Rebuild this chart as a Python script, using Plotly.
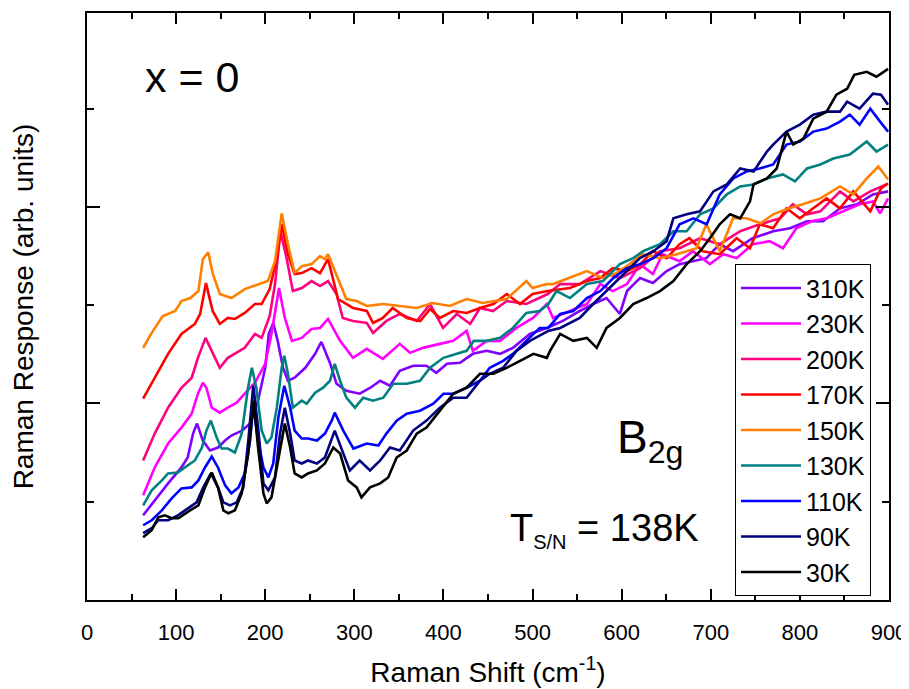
import plotly.graph_objects as go

labels = ["310K", "230K", "200K", "170K", "150K", "130K", "110K", "90K", "30K"]
colors = ["#8000FF", "#FF00FF", "#FF0080", "#FF0000", "#FF8000", "#008080", "#0000FF", "#000080", "#000000"]

# Raman shift (cm^-1) and response (arb. units)
x_310K = [63, 76, 91, 106, 113, 119, 123.5, 130, 138, 147, 155, 162, 174, 183, 192, 200, 204, 209, 214, 220, 225.5, 233, 245, 256, 263, 273, 280, 291, 306, 318, 329, 340, 351, 366, 381, 392, 404, 418.6, 433, 448.5, 463.5, 478, 497, 516, 534, 553, 568, 583, 598, 606, 620.6, 635, 650.5, 665, 680, 695, 710, 725, 747, 770, 789, 808, 826, 845, 864, 882, 899]
y_310K = [85, 100, 117, 133, 143, 167, 177, 160, 150, 153, 160, 165, 170, 177, 200, 233, 267, 278, 260, 233, 220, 223, 233, 247, 259, 237, 217, 210, 207, 213, 220, 215, 230, 235, 235, 228, 237, 238, 247, 250, 247, 253, 267, 273, 280, 290, 297, 303, 287, 310, 323, 318, 330, 337, 340, 343, 357, 350, 363, 370, 373, 380, 380, 393, 397, 407, 410]

x_230K = [63, 76, 91, 106, 117.5, 124.5, 130, 134, 140, 149, 158, 168, 177, 188.5, 200, 207, 215.5, 222, 230, 241, 252, 261.5, 270.5, 284, 298.5, 314, 332, 351, 362.5, 377, 396, 411, 426, 433, 448.5, 463.5, 482, 500.5, 516, 523, 542, 561, 576, 590, 606, 620.6, 635, 646, 665, 680, 699, 714, 729, 747, 766, 781, 796, 813, 830, 848, 867, 882, 890, 899]
y_230K = [105, 133, 157, 173, 187, 207, 218, 213, 193, 188, 193, 198, 207, 218, 237, 267, 313, 283, 260, 263, 272, 273, 282, 260, 243, 252, 242, 257, 248, 253, 257, 260, 270, 250, 260, 260, 273, 283, 297, 283, 290, 297, 317, 310, 317, 337, 327, 347, 340, 350, 337, 347, 343, 357, 360, 353, 373, 380, 383, 390, 397, 400, 388, 403]

x_200K = [63, 76, 91, 106, 117.5, 124.5, 133, 140, 149, 158, 168, 177, 188.5, 196, 205, 211, 217, 224, 231, 241, 252, 261.5, 270.5, 280, 287, 298.5, 314, 321, 336, 351, 370, 385, 399.5, 415, 430, 441, 455.6, 471, 493, 517, 531, 553, 576, 598, 620.6, 643, 665, 688, 710, 733, 755, 778, 792, 808, 823, 845, 860, 879, 897]
y_200K = [140, 167, 193, 213, 223, 243, 263, 250, 233, 243, 248, 253, 267, 263, 285, 317, 370, 343, 310, 313, 320, 315, 320, 307, 283, 280, 278, 268, 280, 287, 280, 297, 273, 287, 277, 293, 290, 300, 297, 307, 317, 317, 330, 323, 333, 350, 353, 363, 357, 370, 377, 383, 397, 387, 390, 410, 400, 410, 417]

x_170K = [63, 76, 91, 106, 121, 127, 133.5, 141, 149, 158, 166, 177, 188.5, 196, 205, 213, 218.5, 225.5, 233, 241, 252, 261.5, 270.5, 281.7, 298.5, 314, 321, 332, 343, 359, 374, 385, 396, 411, 426, 441, 456, 471, 486, 500, 517, 542, 561, 576, 590, 606, 621, 635, 650.5, 665, 676, 691, 710, 729, 744, 755, 770, 785, 800, 815, 830, 845, 860, 879, 891, 899]
y_170K = [202, 223, 247, 267, 277, 287, 318, 290, 277, 283, 282, 288, 297, 297, 312, 343, 377, 347, 327, 328, 333, 328, 342, 302, 293, 290, 278, 283, 293, 283, 280, 292, 283, 290, 288, 293, 297, 307, 297, 307, 310, 313, 320, 323, 333, 330, 337, 350, 343, 357, 363, 350, 347, 363, 353, 377, 373, 393, 383, 393, 403, 393, 410, 390, 413, 418]

x_150K = [63, 72.6, 85, 99, 106, 116, 125, 130, 136, 141, 149, 162, 177, 192, 203, 211, 218.5, 225.5, 233, 241, 252, 261.5, 267, 270.5, 280, 291, 302.6, 314, 332, 351, 370, 388, 407, 426, 444, 471, 493, 500, 516, 523, 561, 579, 594, 609, 624, 643, 662, 684, 695, 710, 725, 740, 756, 770, 785, 803, 823, 845, 860, 875, 888, 899]
y_150K = [253, 268, 285, 290, 300, 303, 310, 342, 349, 328, 307, 303, 312, 317, 320, 340, 388, 357, 328, 335, 337, 345, 342, 347, 327, 302, 300, 295, 297, 295, 293, 298, 295, 302, 298, 302, 320, 313, 317, 317, 330, 323, 328, 337, 347, 343, 347, 353, 377, 350, 383, 383, 378, 387, 392, 397, 403, 415, 407, 423, 435, 422]

x_130K = [63, 72.6, 84, 91, 102, 110, 121, 129, 134, 139, 145.5, 151, 158, 166, 173.6, 180.7, 185, 190, 196, 201.7, 207, 213, 218.5, 221.4, 225.5, 231, 241, 246.5, 256, 265, 272.7, 278, 284, 291, 300.7, 310, 321, 332.5, 343.7, 358.8, 373.7, 385, 400, 415, 426, 434, 448.5, 463.5, 478, 493, 508, 517.7, 527, 542, 561, 579, 598, 613, 624, 643, 658, 673, 688, 703, 718, 733, 748, 763, 781, 794.5, 808, 823, 837.5, 856, 875, 886, 899]
y_130K = [95, 110, 120, 127, 128, 133, 140, 153, 170, 180, 163, 152, 152, 148, 167, 213, 233, 213, 170, 157, 163, 193, 233, 245, 227, 193, 200, 197, 208, 213, 220, 237, 220, 203, 193, 203, 200, 203, 217, 217, 220, 233, 243, 247, 250, 260, 260, 263, 273, 288, 290, 297, 310, 303, 317, 320, 337, 343, 350, 357, 370, 370, 387, 393, 407, 415, 417, 423, 427, 420, 433, 437, 443, 447, 460, 450, 457]

x_110K = [63, 72.6, 84, 95, 106, 117.5, 125, 132.4, 140, 147, 155, 162, 170, 177, 183, 186.6, 192, 198, 203.5, 209, 214.7, 221.4, 228, 233, 241, 248, 258, 267, 274.6, 278, 287.6, 299, 314, 327, 336, 347.5, 358.8, 373.7, 388.6, 400, 411, 426, 441, 452, 467, 478, 493, 508, 517.7, 531, 545.7, 561, 576, 590.6, 605.7, 620.6, 635.6, 650.5, 665, 680.4, 695.4, 710, 725.3, 740.3, 755, 770, 785, 800, 815, 830, 845, 856, 867, 879, 890, 899]
y_110K = [75, 80, 90, 102, 112, 113, 120, 133, 144, 133, 115, 107, 113, 127, 160, 195, 160, 133, 123, 137, 183, 215, 193, 170, 162, 162, 160, 167, 180, 188, 170, 152, 157, 155, 167, 180, 187, 190, 197, 207, 207, 213, 220, 233, 240, 247, 260, 273, 273, 287, 290, 303, 310, 323, 333, 337, 343, 353, 377, 383, 377, 407, 423, 430, 433, 437, 457, 460, 470, 473, 480, 487, 477, 493, 480, 470]

x_90K = [63, 72.6, 80, 91, 102, 113.7, 123, 130.5, 139, 147, 153, 160.5, 168, 175.4, 181, 186.6, 192, 198, 203.5, 211, 216.6, 222, 228, 233, 241, 248, 258, 267, 278, 287.6, 295, 306, 317.6, 329, 340, 351, 366, 381, 396, 411, 426, 441, 452, 467, 482, 497, 517.7, 531, 553, 568, 583, 598, 620.6, 635.6, 650.5, 658, 673, 688, 703, 718, 733, 748, 763, 770, 785, 800, 815, 830, 845, 853, 867, 882, 891, 899]
y_90K = [67, 72, 80, 80, 85, 92, 98, 113, 127, 113, 98, 95, 98, 113, 160, 215, 173, 117, 110, 123, 167, 193, 167, 140, 137, 140, 137, 143, 170, 147, 130, 140, 130, 140, 153, 150, 170, 180, 193, 203, 203, 220, 227, 233, 250, 260, 270, 273, 283, 297, 310, 323, 343, 350, 360, 383, 387, 390, 410, 417, 433, 430, 450, 457, 470, 477, 487, 490, 490, 500, 493, 508, 507, 497]

x_30K = [63, 72.6, 80, 87.5, 95, 102.5, 115.6, 125, 132.4, 140, 147, 153, 158.6, 166, 173.6, 181, 187, 192, 198, 201.7, 207, 214.7, 222, 228, 233, 241, 248, 258, 267, 276.4, 284, 293, 302.6, 308, 317.6, 329, 338, 347.5, 358.8, 370, 381, 396, 411, 426, 441, 456, 471, 486, 501, 516, 519.6, 531, 545.7, 561, 572, 583, 598, 613, 628, 643, 658, 673, 688, 699, 710, 721.6, 733, 744, 748, 763, 774, 785, 792.6, 804, 815, 830, 841, 853, 861, 875, 886, 899]
y_30K = [63, 70, 83, 85, 82, 82, 90, 95, 113, 128, 113, 90, 87, 90, 107, 147, 200, 153, 107, 97, 103, 140, 177, 153, 127, 123, 127, 130, 137, 153, 147, 120, 113, 103, 113, 117, 123, 143, 150, 167, 173, 190, 207, 213, 227, 227, 233, 240, 247, 243, 250, 267, 260, 263, 253, 273, 283, 297, 303, 310, 320, 337, 350, 363, 377, 387, 383, 400, 417, 423, 433, 470, 457, 463, 483, 490, 507, 513, 527, 530, 525, 533]

series_x = [x_310K, x_230K, x_200K, x_170K, x_150K, x_130K, x_110K, x_90K, x_30K]
series_y = [y_310K, y_230K, y_200K, y_170K, y_150K, y_130K, y_110K, y_90K, y_30K]

x_ticks = [0, 100, 200, 300, 400, 500, 600, 700, 800, 900]

fig = go.Figure()
for lab, col, xs, ys in zip(labels, colors, series_x, series_y):
    fig.add_trace(go.Scatter(x=xs, y=ys, mode="lines", name=lab, legendgroup=lab,
                             line=dict(color=col, width=2.6)))

font_main = "Arial, Liberation Sans, sans-serif"

fig.update_layout(
    width=909, height=689,
    margin=dict(l=79, r=28, t=3, b=97),
    plot_bgcolor="white", paper_bgcolor="white",
    font=dict(family=font_main, color="black"),
    showlegend=True,
    legend=dict(x=0.808, y=0.572, xanchor="left", yanchor="top",
                bordercolor="black", borderwidth=1, bgcolor="white",
                font=dict(size=25, family=font_main), tracegroupgap=0,
                itemwidth=60),
    annotations=[
        dict(text="x = 0", x=0.07, y=0.891, xref="paper", yref="paper",
             xanchor="left", yanchor="middle", showarrow=False,
             font=dict(size=43, family=font_main)),
        dict(text="B<sub>2g</sub>", x=0.658, y=0.272, xref="paper", yref="paper",
             xanchor="left", yanchor="middle", showarrow=False,
             font=dict(size=46, family=font_main)),
        dict(text="T<sub><span style='font-size:20px'>S/N</span></sub> = 138K", x=0.525, y=0.119,
             xref="paper", yref="paper", xanchor="left", yanchor="middle", showarrow=False,
             font=dict(size=38, family=font_main)),
    ],
)

fig.update_xaxes(
    range=[0, 900], tickvals=x_ticks, ticktext=[str(v) for v in x_ticks],
    ticks="inside", ticklen=11, tickwidth=2, tickcolor="black",
    minor=dict(dtick=50, tick0=0, ticks="inside", ticklen=6, tickwidth=2, tickcolor="black"),
    showline=True, linewidth=2, linecolor="black", mirror="ticks",
    showgrid=False, zeroline=False, ticklabelstandoff=12,
    tickfont=dict(size=22, family=font_main),
    title=dict(text="Raman Shift (cm<sup>-1</sup>)", font=dict(size=28, family=font_main), standoff=18),
)
fig.update_yaxes(
    range=[0, 589], tick0=0, dtick=197.2, showticklabels=False,
    ticks="inside", ticklen=13, tickwidth=2, tickcolor="black",
    minor=dict(dtick=98.6, tick0=0, ticks="inside", ticklen=7, tickwidth=2, tickcolor="black"),
    showline=True, linewidth=2, linecolor="black", mirror="ticks",
    showgrid=False, zeroline=False,
    title=dict(text="Raman Response (arb. units)", font=dict(size=28, family=font_main), standoff=45),
)

fig.write_html("out.html")
